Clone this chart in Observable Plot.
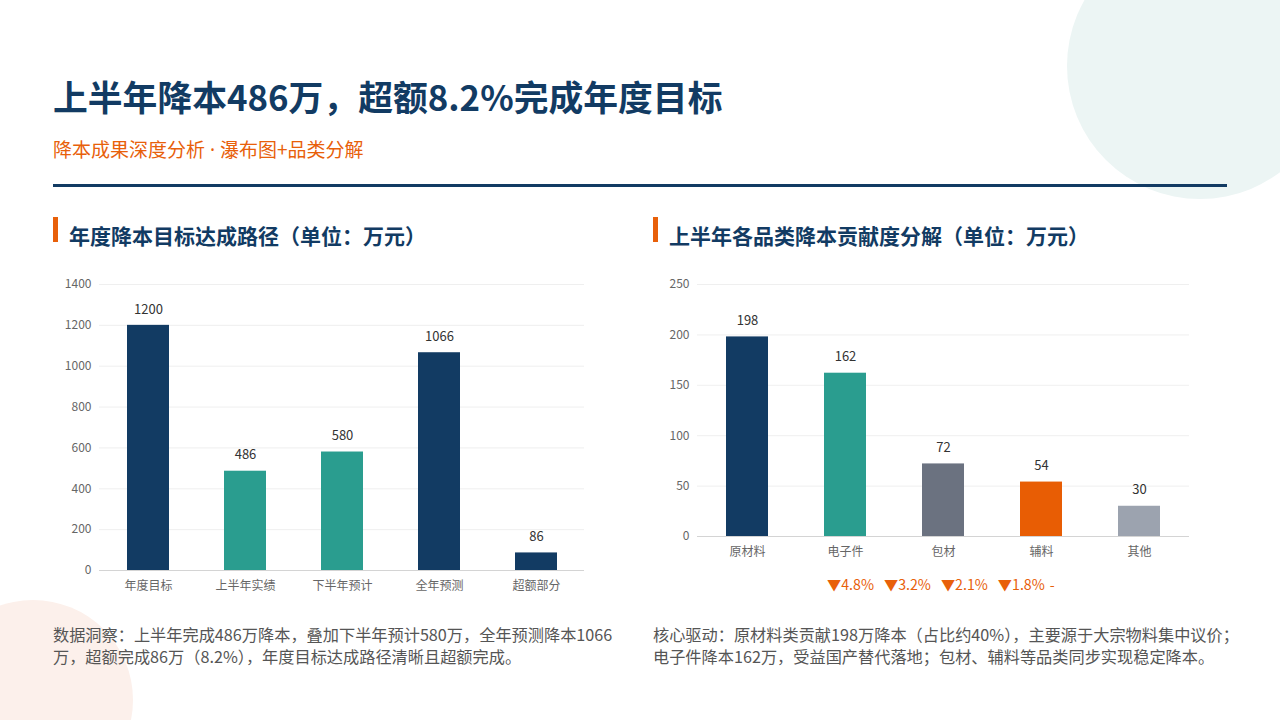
<!DOCTYPE html>
<html>
<head>
<meta charset="utf-8">
<script src="https://cdn.jsdelivr.net/npm/d3@7"></script>
<script src="https://cdn.jsdelivr.net/npm/@observablehq/plot@0.6"></script>
<style>
  html, body { margin: 0; padding: 0; }
  body {
    width: 1280px; height: 720px; overflow: hidden; position: relative; background: #fff;
    font-family: "Noto Sans CJK SC", "Noto Sans", sans-serif;
  }
  .abs { position: absolute; }
  .blob-tr { left: 1067px; top: -67px; width: 266px; height: 266px; border-radius: 50%; background: #ecf5f4; }
  .blob-bl { left: -67px; top: 600px; width: 200px; height: 200px; border-radius: 50%; background: #fcf0eb; }
  .title { left: 53px; top: 77px; font-size: 34.8px; line-height: 38px; font-weight: 700; color: #123b63; white-space: nowrap; }
  .subtitle { left: 53px; top: 137px; font-size: 19px; line-height: 24px; color: #e8600a; white-space: nowrap; }
  .subtitle .dot { font-family: "Noto Sans", sans-serif; }
  .rule { left: 53px; top: 184px; width: 1174px; height: 3px; background: #123b63; }
  .bar { width: 5px; height: 25px; background: #e8600a; top: 217px; }
  .head { top: 221px; font-size: 21px; line-height: 28px; font-weight: 700; color: #123b63; white-space: nowrap; }
  .note { font-size: 16.2px; line-height: 22px; color: #555; white-space: nowrap; }
  .drops { left: 827px; top: 574px; font-size: 14.2px; line-height: 20px; color: #e8600a; white-space: nowrap; }
  .drops span { margin-right: 10px; }
  .drops span:nth-last-child(2) { margin-right: 5px; }
</style>
</head>
<body>
<div class="abs blob-tr"></div>
<div class="abs blob-bl"></div>

<div class="abs title">上半年降本486万，超额8.2%完成年度目标</div>
<div class="abs subtitle">降本成果深度分析<span class="dot"> · </span>瀑布图+品类分解</div>
<div class="abs rule"></div>

<div class="abs bar" style="left:53px"></div>
<div class="abs head" style="left:69px">年度降本目标达成路径（单位：万元）</div>
<div class="abs bar" style="left:653px"></div>
<div class="abs head" style="left:669px">上半年各品类降本贡献度分解（单位：万元）</div>

<div id="left" class="abs" style="left:53px; top:270px"></div>
<div id="right" class="abs" style="left:653px; top:270px"></div>
<div id="drops" class="abs drops"></div>

<div class="abs note" style="left:53px; top:623px">数据洞察：上半年完成486万降本，叠加下半年预计580万，全年预测降本1066<br>万，超额完成86万（8.2%），年度目标达成路径清晰且超额完成。</div>
<div class="abs note" style="left:653px; top:623px">核心驱动：原材料类贡献198万降本（占比约40%），主要源于大宗物料集中议价；<br>电子件降本162万，受益国产替代落地；包材、辅料等品类同步实现稳定降本。</div>

<script>
// Annual target path (万元)
const pathStages = ["年度目标", "上半年实绩", "下半年预计", "全年预测", "超额部分"];
const pathValues = [1200, 486, 580, 1066, 86];
const pathColors = ["#123b63", "#2a9d8f", "#2a9d8f", "#123b63", "#123b63"];
const pathTicks = [0, 200, 400, 600, 800, 1000, 1200, 1400];

// H1 savings by category (万元)
const categories = ["原材料", "电子件", "包材", "辅料", "其他"];
const categoryValues = [198, 162, 72, 54, 30];
const categoryColors = ["#123b63", "#2a9d8f", "#6b7280", "#e85d04", "#9ca3af"];
const categoryTicks = [0, 50, 100, 150, 200, 250];
const priceDrops = ["4.8%", "3.2%", "2.1%", "1.8%", null];

const font = '"Noto Sans CJK SC", "Noto Sans", sans-serif';

const pathData = pathStages.map((stage, i) => ({stage, value: pathValues[i], color: pathColors[i]}));
const categoryData = categories.map((cat, i) => ({cat, value: categoryValues[i], color: categoryColors[i]}));

function barChart({data, key, domain, ticks, width, height, marginLeft, marginBottom}) {
  return Plot.plot({
    width, height,
    marginLeft, marginRight: 9, marginTop: 14, marginBottom,
    style: {fontFamily: font, fontSize: "12px", color: "#666", background: "transparent", overflow: "visible"},
    x: {domain: data.map(d => d[key]), paddingInner: 0.57, paddingOuter: 0.285, label: null, tickSize: 0, tickPadding: 11},
    y: {domain, ticks, tickFormat: d => String(d), label: null, tickSize: 0, tickPadding: 8, grid: true},
    color: {type: "identity"},
    marks: [
      Plot.ruleY([0], {stroke: "#d4d4d4"}),
      Plot.barY(data, {x: key, y: "value", fill: "color"}),
      Plot.text(data, {x: key, y: "value", text: d => String(d.value), dy: -16, fill: "#333", fontSize: 13})
    ]
  });
}

document.getElementById("left").append(barChart({
  data: pathData, key: "stage", domain: [0, 1400], ticks: pathTicks,
  width: 540, height: 330, marginLeft: 46, marginBottom: 30
}));

document.getElementById("right").append(barChart({
  data: categoryData, key: "cat", domain: [0, 250], ticks: categoryTicks,
  width: 545, height: 290, marginLeft: 44, marginBottom: 24
}));

// Unit price decline per category; "-" where not applicable
const drops = document.getElementById("drops");
for (const p of priceDrops) {
  const s = document.createElement("span");
  s.textContent = p == null ? "-" : "▼" + p;
  drops.append(s);
}
</script>
</body>
</html>
